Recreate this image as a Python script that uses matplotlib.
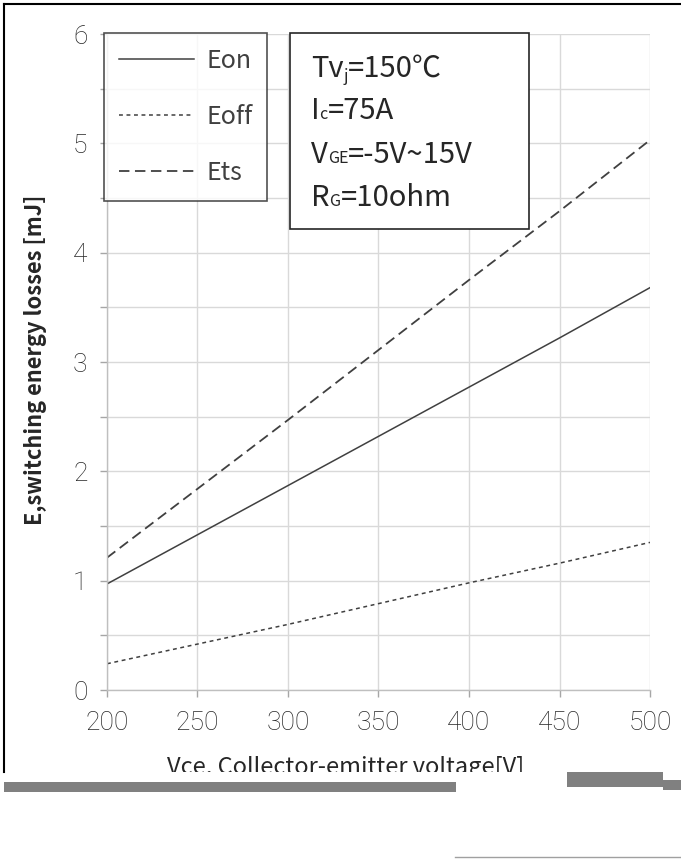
import numpy as np
import matplotlib
matplotlib.use("Agg")
import matplotlib.pyplot as plt
from matplotlib.patches import Rectangle
from matplotlib.lines import Line2D

# collector-emitter voltage [V]
vce = [200, 250, 300, 350, 400, 450, 500]
# switching energy losses [mJ]
eon = [0.97, 1.42, 1.87, 2.32, 2.77, 3.22, 3.68]
eoff = [0.24, 0.42, 0.60, 0.79, 0.98, 1.16, 1.35]
ets = [1.21, 1.84, 2.47, 3.11, 3.75, 4.38, 5.03]

series_labels = ["Eon", "Eoff", "Ets"]
xticks = [200, 250, 300, 350, 400, 450, 500]
yticks = [0, 1, 2, 3, 4, 5, 6]

W, H = 681, 859
plt.rcParams['lines.scale_dashes'] = False
cjk = ['Noto Sans CJK SC', 'DejaVu Sans']

fig = plt.figure(figsize=(W / 100, H / 100), dpi=100)
ax = fig.add_axes([107 / W, (H - 690) / H, 543 / W, 656 / H])

line_col = '#404040'
ax.plot(vce, eon, color=line_col, lw=1.1, label=series_labels[0])
ax.plot(vce, eoff, color=line_col, lw=1.1, dashes=(2.8, 2.6), label=series_labels[1])
ax.plot(vce, ets, color=line_col, lw=1.3, dashes=(7.5, 4.0), label=series_labels[2])

ax.set_xlim(200, 500)
ax.set_ylim(0, 6)
ax.set_xticks(xticks)
ax.set_yticks(yticks)
ax.set_yticks(np.arange(0.5, 6, 1.0), minor=True)
ax.grid(True, which='both', color='#d9d9d9', lw=1.0)
ax.set_axisbelow(True)
for s in ['top', 'right']:
  ax.spines[s].set_visible(False)
for s in ['left', 'bottom']:
  ax.spines[s].set_color('#bfbfbf')
  ax.spines[s].set_linewidth(1.0)

ax.tick_params(axis='both', which='both', color='#a6a6a6', length=5, width=1.0,
               labelsize=19, labelcolor='#262626', pad=9)
ax.tick_params(axis='x', pad=10)
for lab in ax.get_xticklabels() + ax.get_yticklabels():
  lab.set_family('Roboto')
  lab.set_fontweight('light')

ax.set_ylabel("E,switching energy losses [mJ]", family=cjk, fontsize=15.7,
              fontweight='bold', color='#262626')
ax.yaxis.set_label_coords(-0.11, 0.503)

leg = ax.legend(loc='upper left', bbox_to_anchor=(-0.006, 1.002), borderaxespad=0,
                prop={'family': cjk, 'size': 18}, frameon=True, fancybox=False,
                edgecolor='#262626', handlelength=3.0, handletextpad=0.5,
                labelspacing=1.2, borderpad=0.6)
leg.get_frame().set_linewidth(1.2)
for t in leg.get_texts():
  t.set_color('#404040')

# conditions box
fig.patches.append(Rectangle((290 / W, 1 - 229 / H), 239 / W, 196 / H,
                             transform=fig.transFigure, facecolor='white',
                             edgecolor='#262626', lw=1.2, zorder=5))

renderer = fig.canvas.get_renderer()


def run(x0, base, parts, size=21):
  x = x0
  for txt, sub in parts:
    fs = size * 0.55 if sub else size
    dy = 4 if txt == 'j' else 0
    t = fig.text(x / W, 1 - (base + dy) / H, txt, family=cjk, fontsize=fs,
                 color='#262626', va='baseline', ha='left', zorder=6)
    x += t.get_window_extent(renderer).width


run(311, 77, [("Tv", False), ("j", True), ("=150℃", False)])
run(311, 119, [("I", False), ("c", True), ("=75A", False)])
run(311, 163, [("V", False), ("GE", True), ("=-5V~15V", False)])
run(311, 206, [("R", False), ("G", True), ("=10ohm", False)])

fig.text(346 / W, 1 - 774 / H, "Vce, Collector-emitter voltage[V]", family=cjk,
         fontsize=17, color='#262626', ha='center', va='baseline')

# scan border and the damaged strip below the chart
fig.add_artist(Rectangle((0, 0), 1, 1 - 772 / H, transform=fig.transFigure,
                         facecolor='white', edgecolor='none', zorder=10))
fig.add_artist(Line2D([4 / W, 1], [1 - 4 / H, 1 - 4 / H], transform=fig.transFigure,
                      color='black', lw=1.5, zorder=11))
fig.add_artist(Line2D([4 / W, 4 / W], [1 - 4 / H, 1 - 772 / H], transform=fig.transFigure,
                      color='black', lw=1.5, zorder=11))
fig.add_artist(Rectangle((4 / W, 1 - 792 / H), 452 / W, 10 / H, transform=fig.transFigure,
                         facecolor='#808080', edgecolor='none', zorder=11))
fig.add_artist(Rectangle((567 / W, 1 - 787 / H), 96 / W, 15 / H, transform=fig.transFigure,
                         facecolor='#808080', edgecolor='none', zorder=11))
fig.add_artist(Rectangle((663 / W, 1 - 790 / H), 18 / W, 10 / H, transform=fig.transFigure,
                         facecolor='#808080', edgecolor='none', zorder=11))
fig.add_artist(Line2D([455 / W, 1], [1 - 857 / H, 1 - 857 / H], transform=fig.transFigure,
                      color='#a0a0a0', lw=1.0, zorder=11))

fig.savefig("out.png", dpi=100)
